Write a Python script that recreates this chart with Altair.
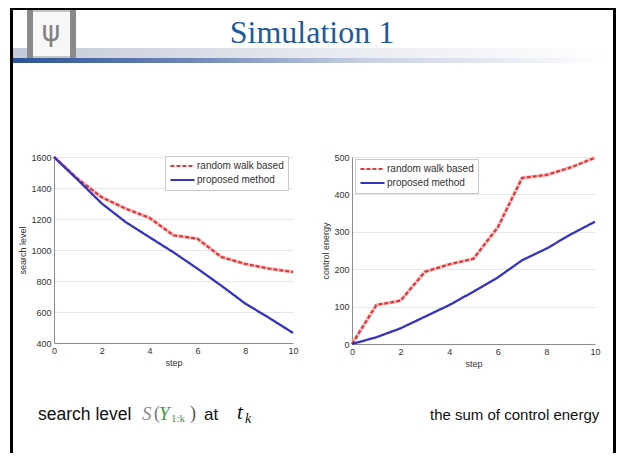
import altair as alt
import pandas as pd

# ---------------- data ----------------
steps = [0, 1, 2, 3, 4, 5, 6, 7, 8, 9, 10]
series_names = ["random walk based", "proposed method"]
level_random = [1600, 1458, 1340, 1267, 1207, 1095, 1073, 955, 910, 880, 858]
level_proposed = [1600, 1452, 1300, 1180, 1082, 985, 880, 770, 655, 562, 465]
energy_random = [0, 104, 116, 193, 213, 228, 312, 444, 452, 472, 498]
energy_proposed = [0, 18, 42, 73, 104, 140, 178, 224, 255, 293, 327]
step_ticks = [0, 2, 4, 6, 8, 10]
level_ticks = [400, 600, 800, 1000, 1200, 1400, 1600]
energy_ticks = [0, 100, 200, 300, 400, 500]
slide_title = "Simulation 1"
x_title = "step"
left_y_title = "search level"
right_y_title = "control energy"
caption_left = "search level"
caption_right = "the sum of control energy"

W, H = 608, 445
SANS = "Liberation Sans"
SERIF = "Liberation Serif"


def long_df(a, b):
    return pd.DataFrame({
        "step": steps + steps,
        "value": a + b,
        "series": [series_names[0]] * len(steps) + [series_names[1]] * len(steps),
    })


def panel(df, ydomain, yticks, ytitle, x0, x1, ytop, ybot, lx, ly):
    xs = alt.Scale(domain=[0, 10], range=[x0, x1], nice=False, zero=False)
    ys = alt.Scale(domain=ydomain, range=[ybot, ytop], nice=False, zero=False)
    xaxis = alt.Axis(orient="bottom", offset=ybot - H, values=step_ticks, title=x_title,
                     format="d", grid=False, ticks=False, domainColor="#8c8c8c", labelFont=SANS,
                     labelFontSize=9, labelColor="#333333", labelPadding=3, labelFlush=False,
                     titleFont=SANS, titleFontSize=9, titleFontWeight="normal",
                     titleColor="#333333", titlePadding=3)
    yaxis = alt.Axis(orient="left", offset=-x0, values=yticks, title=ytitle, format="d",
                     grid=True, gridColor="#e6e6e6", ticks=False, domainColor="#8c8c8c",
                     labelFont=SANS, labelFontSize=9, labelColor="#333333", labelPadding=3,
                     titleFont=SANS, titleFontSize=9, titleFontWeight="normal",
                     titleColor="#333333", titlePadding=3)
    legend = alt.Legend(orient="none", legendX=lx, legendY=ly, title=None, direction="vertical",
                        fillColor="white", strokeColor="#c8c8c8", padding=4,
                        symbolType="stroke", symbolSize=580, symbolStrokeWidth=2,
                        labelFont=SANS, labelFontSize=10, labelColor="#333333",
                        labelOffset=1, rowPadding=2, clipHeight=12)
    color = alt.Color("series:N", scale=alt.Scale(domain=series_names, range=["#e03a3e", "#3633bf"]),
                      legend=legend)
    dash = alt.StrokeDash("series:N", scale=alt.Scale(domain=series_names, range=[[4, 2], [1, 0]]),
                          legend=legend)
    x = alt.X("step:Q", scale=xs, axis=xaxis)
    y = alt.Y("value:Q", scale=ys, axis=yaxis)
    glow = (alt.Chart(df).transform_filter(alt.datum.series == series_names[0])
            .mark_line(color="#f8c4c4", strokeWidth=3.5).encode(x=x, y=y))
    lines = alt.Chart(df).mark_line(strokeWidth=2.3).encode(x=x, y=y, color=color, strokeDash=dash)
    return alt.layer(glow, lines)


left = panel(long_df(level_random, level_proposed), [400, 1600], level_ticks, left_y_title,
             46, 285, 149, 335, 157, 148)
right = panel(long_df(energy_random, energy_proposed), [0, 500], energy_ticks, right_y_title,
              344, 587, 149, 336, 347, 151)

one = pd.DataFrame({"k": [0]})


def rule(x, y, x2, y2, color, w):
    return alt.Chart(one).mark_rule(color=color, strokeWidth=w).encode(
        x=alt.value(x), y=alt.value(y), x2=alt.value(x2), y2=alt.value(y2))


def rect(x, y, x2, y2, fill):
    return alt.Chart(one).mark_rect(fill=fill).encode(
        x=alt.value(x), y=alt.value(y), x2=alt.value(x2), y2=alt.value(y2))


def text(s, x, y, size, color, font=SANS, style="normal", align="left"):
    return alt.Chart(one).mark_text(text=s, align=align, baseline="middle", fontSize=size,
                                    font=font, color=color, fontStyle=style).encode(
        x=alt.value(x), y=alt.value(y))


grad_light = alt.LinearGradient(gradient="linear", x1=0, x2=1, y1=0, y2=0, stops=[
    alt.GradientStop(color="#c3c9d8", offset=0),
    alt.GradientStop(color="#e6e9f0", offset=0.5),
    alt.GradientStop(color="#ffffff", offset=1)])
grad_dark = alt.LinearGradient(gradient="linear", x1=0, x2=1, y1=0, y2=0, stops=[
    alt.GradientStop(color="#2b5296", offset=0),
    alt.GradientStop(color="#6f86b8", offset=0.3),
    alt.GradientStop(color="#c9d1e4", offset=0.6),
    alt.GradientStop(color="#ffffff", offset=1)])

decor = [
    rect(3, 40, 600, 50, grad_light),
    rect(3, 50, 600, 55, grad_dark),
    rect(19, 2, 68, 50, "#c4c4c4"),
    rect(19, 2, 25, 50, "#8a8a8a"),
    rect(62, 2, 68, 50, "#8a8a8a"),
    rect(25, 4, 62, 48, "#f7f7f7"),
    text("ψ", 43, 25, 28, "#808080", font="DejaVu Sans", align="center"),
    text(slide_title, 304, 25, 32, "#1f5a9c", font=SERIF, align="center"),
    rule(3.5, 0, 3.5, H, "black", 3),
    rule(606.5, 0, 606.5, H, "black", 3),
    rule(2, 1, 608, 1, "black", 2),
    text(caption_left, 30, 407, 17.5, "#111111"),
    text("S", 134, 406, 19, "#8c8c8c", font=SERIF, style="italic"),
    text("(", 146, 406, 18, "#777777", font=SERIF),
    text("Y", 151, 406, 19, "#3b9a3b", font=SERIF, style="italic"),
    text("1:k", 163, 411, 11, "#3b9a3b", font=SERIF),
    text(")", 182, 406, 18, "#555555", font=SERIF),
    text("at", 196, 407, 17, "#111111"),
    text("t", 229, 405, 21, "#111111", font=SERIF, style="italic"),
    text("k", 237, 411, 14, "#111111", font=SERIF, style="italic"),
    text(caption_right, 422, 407, 15, "#111111"),
]

chart = alt.layer(*decor, left, right).resolve_scale(
    x="independent", y="independent", color="independent", strokeDash="independent"
).resolve_axis(x="independent", y="independent").resolve_legend(
    color="independent", strokeDash="independent"
).properties(
    width=W, height=H, autosize=alt.AutoSizeParams(type="none"), padding=0
).configure_view(stroke=None)

chart.save("out.html", embed_options={"renderer": "svg", "actions": False})
